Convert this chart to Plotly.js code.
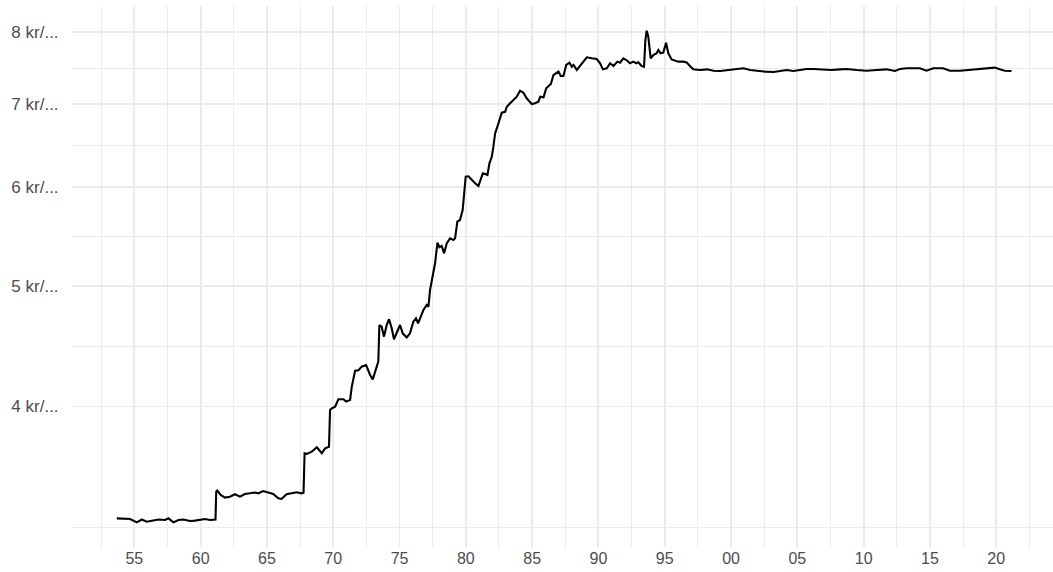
<!DOCTYPE html>
<html>
<head>
<meta charset="utf-8">
<script src="https://cdn.plot.ly/plotly-3.0.1.min.js"></script>
<style>html,body{margin:0;padding:0;background:#fff;}#chart{width:1053px;height:572px;}</style>
</head>
<body>
<div id="chart"></div>
<script>
// Decimal years (date of observation)
const years = [
  1953.68,1954.68,1955.19,1955.56,1955.94,1956.44,1956.82,1957.32,1957.57,1957.95,
  1958.32,1958.70,1959.20,1959.58,1959.96,1960.33,1960.71,1961.08,1961.12,1961.18,1961.26,
  1961.51,1961.84,1962.21,1962.59,1962.97,1963.34,1963.72,1964.10,1964.35,1964.72,
  1965.10,1965.48,1965.85,1966.10,1966.48,1966.86,1967.24,1967.61,1967.76,
  1967.84,1968.01,1968.38,1968.76,1969.14,1969.39,1969.68,1969.76,1969.89,1970.14,
  1970.39,1970.77,1970.97,1971.27,1971.40,1971.65,1971.90,1972.15,1972.48,1972.78,
  1972.98,1973.28,1973.40,1973.48,1973.65,1973.83,1974.03,1974.21,1974.41,1974.58,
  1974.78,1975.04,1975.24,1975.54,1975.79,1976.04,1976.24,1976.40,
  1976.55,1976.80,1977.05,1977.18,1977.30,1977.51,1977.68,1977.86,1978.01,1978.18,
  1978.36,1978.56,1978.81,1979.06,1979.19,1979.36,1979.56,1979.76,1979.89,1979.99,
  1980.20,1980.45,1980.70,1980.95,1981.13,1981.28,1981.46,1981.63,1981.78,1981.96,
  1982.08,1982.21,1982.38,1982.59,1982.71,1982.96,1983.09,1983.34,1983.59,1983.84,
  1984.09,1984.34,1984.59,1984.97,1985.22,1985.47,
  1985.61,1985.86,1986.06,1986.23,1986.41,1986.61,1986.86,1986.99,1987.16,1987.36,
  1987.57,1987.82,1987.99,1988.12,1988.37,1988.57,1988.75,1989.12,1989.50,1989.87,
  1990.13,1990.33,1990.63,1990.88,1991.13,1991.43,1991.63,1991.88,1992.18,1992.38,
  1992.64,1992.84,1993.01,1993.26,1993.44,1993.54,1993.64,1993.76,1993.94,1994.14,
  1994.39,1994.52,1994.69,1994.89,1995.10,1995.27,1995.52,1995.77,1996.02,1996.40,
  1996.65,1996.90,1997.15,1997.66,
  1998.18,1998.68,1999.18,1999.81,2000.31,2000.94,2001.44,2001.94,2002.57,2003.20,
  2003.70,2004.20,2004.70,2005.21,2005.71,2006.21,2006.96,2007.59,2008.22,2008.72,
  2009.47,2010.23,2010.98,2011.73,2012.36,2012.74,2013.24,2014.24,2014.74,2015.25,
  2016.00,2016.50,2017.25,2018.01,2018.51,2019.26,2019.89,2020.27,2020.64,2021.15
];
// Price (kr/...)
const prices = [
  3.252,3.248,3.228,3.245,3.232,3.242,3.245,3.242,3.252,3.228,
  3.242,3.245,3.236,3.238,3.245,3.248,3.242,3.245,3.245,3.417,3.423,
  3.396,3.379,3.385,3.400,3.385,3.402,3.406,3.411,3.406,3.420,
  3.411,3.402,3.375,3.371,3.400,3.406,3.413,3.406,3.410,
  3.668,3.664,3.679,3.709,3.668,3.702,3.713,3.974,3.987,3.999,
  4.054,4.054,4.036,4.048,4.150,4.274,4.277,4.306,4.319,4.240,
  4.206,4.306,4.346,4.651,4.637,4.552,4.651,4.701,4.623,4.530,
  4.580,4.651,4.580,4.545,4.580,4.680,4.709,4.666,
  4.709,4.782,4.827,4.812,4.962,5.102,5.214,5.417,5.371,5.384,
  5.311,5.410,5.461,5.444,5.461,5.631,5.649,5.754,5.971,6.120,
  6.125,6.083,6.046,6.016,6.083,6.159,6.150,6.139,6.274,6.351,
  6.470,6.632,6.714,6.839,6.890,6.902,6.967,7.011,7.054,7.097,
  7.176,7.150,7.076,7.002,7.011,7.032,
  7.097,7.089,7.208,7.239,7.266,7.388,7.412,7.434,7.374,7.374,
  7.526,7.558,7.502,7.526,7.457,7.502,7.550,7.634,7.620,7.610,
  7.550,7.466,7.480,7.550,7.512,7.573,7.558,7.620,7.586,7.550,
  7.573,7.550,7.563,7.512,7.502,7.882,8.019,7.931,7.620,7.667,
  7.691,7.738,7.691,7.700,7.843,7.691,7.604,7.586,7.573,7.573,
  7.563,7.512,7.466,7.457,
  7.466,7.447,7.443,7.457,7.471,7.480,7.457,7.443,7.434,7.429,
  7.447,7.457,7.443,7.457,7.471,7.471,7.466,7.457,7.466,7.471,
  7.457,7.447,7.457,7.466,7.443,7.471,7.480,7.480,7.447,7.480,
  7.480,7.447,7.447,7.457,7.466,7.480,7.490,7.466,7.447,7.443
];

const xTickVals = [1955,1960,1965,1970,1975,1980,1985,1990,1995,2000,2005,2010,2015,2020];
const xTickText = ['55','60','65','70','75','80','85','90','95','00','05','10','15','20'];
const xMinorVals = [1952.5,1957.5,1962.5,1967.5,1972.5,1977.5,1982.5,1987.5,1992.5,1997.5,2002.5,2007.5,2012.5,2017.5,2022.5];
const yTickVals = [4,5,6,7,8];
const yTickText = ['4 kr/...','5 kr/...','6 kr/...','7 kr/...','8 kr/...'];
const yMinorVals = [3.2,4.472,5.477,6.481,7.483];

const gridCol = '#EBEBEB';
const fam = 'Liberation Sans, Arial, sans-serif';

const trace = {
  x: years, y: prices, type: 'scatter', mode: 'lines',
  line: {color: '#000000', width: 2.1}, hoverinfo: 'skip'
};

const layout = {
  width: 1053, height: 572,
  margin: {l: 72, r: 0, t: 6, b: 25, pad: 0},
  paper_bgcolor: '#FFFFFF', plot_bgcolor: '#FFFFFF',
  showlegend: false,
  xaxis: {
    range: [1950.30, 2024.28], tickmode: 'array', tickvals: xTickVals, ticktext: xTickText,
    showgrid: true, gridcolor: gridCol, gridwidth: 1.9, zeroline: false, showline: false,
    ticks: '', tickfont: {family: fam, size: 16, color: '#4D4D4D'},
    minor: {tickmode: 'array', tickvals: xMinorVals, showgrid: true, gridcolor: gridCol, gridwidth: 1, ticks: ''},
    automargin: false, fixedrange: true
  },
  yaxis: {
    type: 'log', range: [0.4891, 0.9240], tickmode: 'array', tickvals: yTickVals, ticktext: yTickText,
    showgrid: true, gridcolor: gridCol, gridwidth: 1.9, zeroline: false, showline: false,
    ticks: 'outside', ticklen: 9, tickcolor: 'rgba(0,0,0,0)', tickfont: {family: fam, size: 17, color: '#4D4D4D'},
    minor: {tickmode: 'array', tickvals: yMinorVals, showgrid: true, gridcolor: gridCol, gridwidth: 1, ticks: ''},
    automargin: false, fixedrange: true
  }
};

Plotly.newPlot('chart', [trace], layout, {displayModeBar: false, staticPlot: true});
</script>
</body>
</html>
